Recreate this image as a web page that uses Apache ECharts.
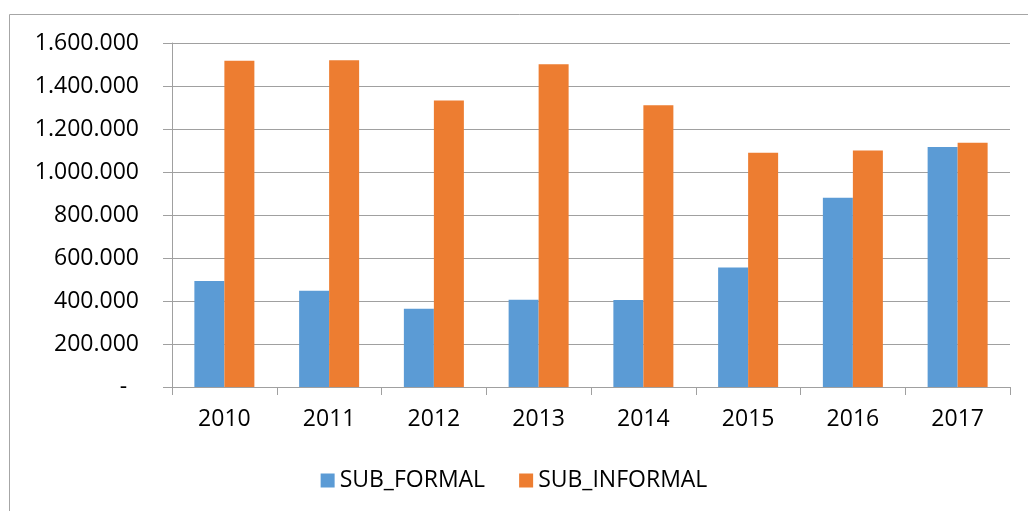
<!DOCTYPE html>
<html>
<head>
<meta charset="utf-8">
<script src="https://cdn.jsdelivr.net/npm/echarts@6/dist/echarts.min.js"></script>
<style>
  html, body { margin: 0; padding: 0; background: #fff; }
  #main { width: 1028px; height: 511px; }
</style>
</head>
<body>
<div id="main"></div>
<script>
const years = ['2010', '2011', '2012', '2013', '2014', '2015', '2016', '2017'];
const subFormal = [493000, 448000, 364000, 406000, 405000, 556000, 880000, 1116000];
const subInformal = [1518000, 1520000, 1332000, 1501000, 1310000, 1089000, 1100000, 1136000];

const chart = echarts.init(document.getElementById('main'));

// excel style: dots as thousand separator, dash for zero
function fmt(v) {
  if (v === 0) return '-  ';
  return String(v).replace(/\B(?=(\d{3})+(?!\d))/g, '.');
}

const font = 'Open Sans';

const option = {
  animation: false,
  graphic: [{
    type: 'rect',
    shape: { x: 9.5, y: 14.5, width: 1040, height: 530 },
    style: { fill: 'none', stroke: '#a6a6a6', lineWidth: 1 },
    silent: true
  }],
  color: ['#5B9BD5', '#ED7D31'],
  grid: { left: 172, right: 18, top: 43, bottom: 124 },
  legend: {
    data: ['SUB_FORMAL', 'SUB_INFORMAL'],
    top: 464,
    left: 'center',
    itemWidth: 14,
    itemHeight: 14,
    itemGap: 34,
    icon: 'rect',
    textStyle: { fontFamily: font, fontSize: 23, color: '#000' }
  },
  xAxis: {
    type: 'category',
    data: years,
    axisLine: { lineStyle: { color: '#a0a0a0' } },
    axisTick: { show: true, length: 8, lineStyle: { color: '#a0a0a0' } },
    axisLabel: { margin: 21, fontFamily: font, fontSize: 23, color: '#000' }
  },
  yAxis: {
    type: 'value',
    min: 0,
    max: 1600000,
    interval: 200000,
    axisLine: { show: true, lineStyle: { color: '#a0a0a0' } },
    axisTick: { show: true, inside: false, length: 9, lineStyle: { color: '#a0a0a0' } },
    splitLine: { lineStyle: { color: '#a0a0a0' } },
    axisLabel: { margin: 33, fontFamily: font, fontSize: 23, color: '#000', formatter: fmt }
  },
  series: [{
    name: 'SUB_FORMAL',
    type: 'bar',
    barWidth: 30,
    barGap: '0%',
    data: subFormal
  }, {
    name: 'SUB_INFORMAL',
    type: 'bar',
    barWidth: 30,
    barGap: '0%',
    data: subInformal
  }]
};

chart.setOption(option);
</script>
</body>
</html>
